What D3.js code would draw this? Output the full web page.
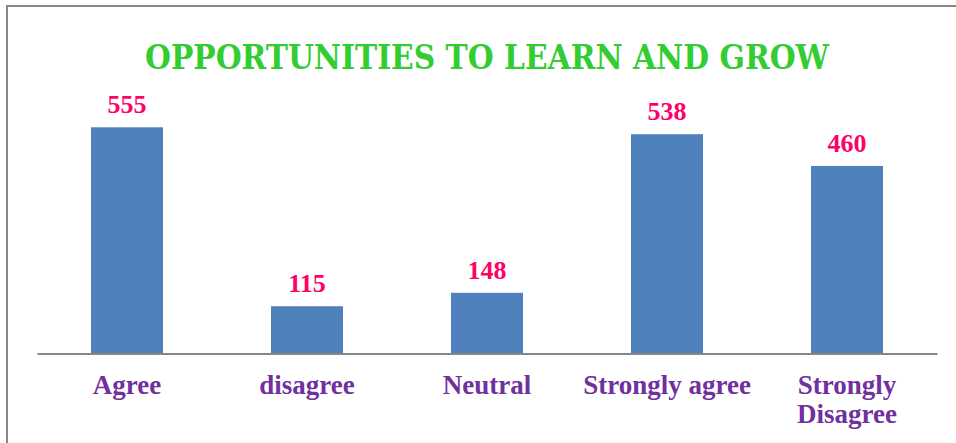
<!DOCTYPE html>
<html>
<head>
  <meta charset="utf-8">
  <style>
    body { margin: 0; background: #fff; }
    .frame { fill: none; stroke: #878787; stroke-width: 2px; }
    .bar { fill: #4f81bd; }
    .value { fill: #ff0066; font-family: "Liberation Serif", serif; font-weight: bold; font-size: 26px; }
    .cat { fill: #7030a0; font-family: "Liberation Serif", serif; font-weight: bold; font-size: 27px; }
    .title { fill: #33cc33; font-family: "DejaVu Serif Condensed", "DejaVu Serif", serif; font-weight: bold; font-size: 34px; }
  </style>
</head>
<body>
  <svg width="956" height="443"></svg>
  <script src="https://cdn.jsdelivr.net/npm/d3@7"></script>
  <script>
    var categories = ["Agree", "disagree", "Neutral", "Strongly agree", "Strongly Disagree"];
    var values = [555, 115, 148, 538, 460];
    var titleText = "OPPORTUNITIES TO LEARN AND GROW";

    var svg = d3.select("svg"),
        margin = {left: 37, right: 19, top: 109, bottom: 90},
        width = 956 - margin.left - margin.right,
        height = 443 - margin.top - margin.bottom;

    var x = d3.scaleBand().domain(categories).range([0, width]).paddingInner(0.6).paddingOuter(0.3);
    var y = d3.scaleLinear().domain([0, 600]).range([height, 0]);

    // frame: top and left edges only visible
    svg.append("path")
        .attr("class", "frame")
        .attr("d", "M7,443V6H956");

    svg.append("text")
        .attr("class", "title")
        .attr("x", 487)
        .attr("y", 69)
        .attr("text-anchor", "middle")
        .attr("textLength", 684)
        .attr("lengthAdjust", "spacingAndGlyphs")
        .text(titleText);

    var g = svg.append("g")
        .attr("transform", "translate(" + margin.left + "," + margin.top + ")");

    var data = categories.map(function(c, i) { return {cat: c, val: values[i]}; });

    g.selectAll(".bar")
      .data(data)
      .enter().append("rect")
        .attr("class", "bar")
        .attr("x", function(d) { return x(d.cat); })
        .attr("width", x.bandwidth())
        .attr("y", function(d) { return y(d.val); })
        .attr("height", function(d) { return height - y(d.val); });

    g.selectAll(".value")
      .data(data)
      .enter().append("text")
        .attr("class", "value")
        .attr("x", function(d) { return x(d.cat) + x.bandwidth() / 2; })
        .attr("y", function(d) { return y(d.val) - 14; })
        .attr("text-anchor", "middle")
        .text(function(d) { return d.val; });

    var xAxis = d3.axisBottom(x).tickSize(0).tickSizeOuter(0);
    var ax = g.append("g")
        .attr("transform", "translate(0," + (height + 0.5) + ")")
        .call(xAxis);
    ax.select(".domain").attr("stroke", "#878787").attr("stroke-width", 2);
    ax.selectAll(".tick text").remove();

    // category labels, wrapping the long last one
    ax.selectAll(".tick").each(function(d) {
      var t = d3.select(this).append("text")
          .attr("class", "cat")
          .attr("text-anchor", "middle")
          .attr("y", 40);
      var lines = d === "Strongly Disagree" ? ["Strongly", "Disagree"] : [d];
      lines.forEach(function(l, i) {
        t.append("tspan").attr("x", 0).attr("dy", i === 0 ? 0 : 29).text(l);
      });
    });
  </script>
</body>
</html>
